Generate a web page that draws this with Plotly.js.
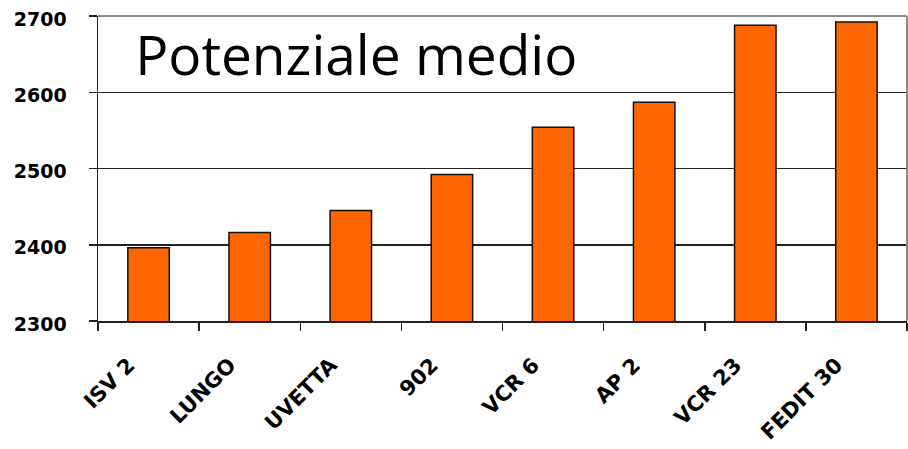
<!DOCTYPE html>
<html>
<head>
<meta charset="utf-8">
<script src="https://cdn.plot.ly/plotly-3.0.1.min.js"></script>
<style>
  html, body { margin: 0; padding: 0; background: #fff; }
  #chart { width: 908px; height: 449px; }
</style>
</head>
<body>
<div id="chart"></div>
<script>
// varietà e potenziale medio
const varieta = ["ISV 2", "LUNGO", "UVETTA", "902", "VCR 6", "AP 2", "VCR 23", "FEDIT 30"];
const potenziale = [2396, 2416, 2445, 2492, 2554, 2587, 2688, 2692];
const yTicks = [2300, 2400, 2500, 2600, 2700];

const yFont = { family: "DejaVu Sans", size: 19, color: "#000", weight: "bold" };
const xFont = { family: "DejaVu Sans", size: 21, color: "#000", weight: "bold" };

Plotly.newPlot(
  "chart",
  [{
    type: "bar",
    x: varieta,
    y: potenziale,
    marker: { color: "#FF6600", line: { color: "#111", width: 1.5 } },
    hoverinfo: "x+y",
  }],
  {
    width: 908,
    height: 449,
    margin: { l: 98, r: 1, t: 16, b: 128 },
    paper_bgcolor: "#fff",
    plot_bgcolor: "#fff",
    bargap: 0.59,
    showlegend: false,
    title: {
      text: "Potenziale medio",
      font: { family: "Open Sans", size: 55, color: "#000" },
      xref: "paper", x: 0.046, xanchor: "left",
      yref: "paper", y: 0.87, yanchor: "middle",
    },
    xaxis: {
      type: "category",
      tickangle: -45,
      tickfont: xFont,
      ticks: "outside",
      tickson: "boundaries",
      ticklen: 8,
      tickwidth: 1.5,
      tickcolor: "#222",
      ticklabelstandoff: 22,
      ticklabelshift: -20,
      showline: true,
      linecolor: "#222",
      linewidth: 1.5,
      showgrid: false,
      fixedrange: true,
    },
    yaxis: {
      range: [2300, 2700],
      tickvals: yTicks,
      tickfont: yFont,
      ticks: "outside",
      ticklen: 8,
      tickwidth: 1.5,
      tickcolor: "#222",
      ticklabelstandoff: 18,
      ticklabelshift: 3,
      showline: true,
      linecolor: "#222",
      linewidth: 1.5,
      showgrid: true,
      gridcolor: "#222",
      gridwidth: 1.5,
      fixedrange: true,
    },
    shapes: [
      { type: "line", xref: "paper", yref: "paper", x0: 0, x1: 1, y0: 1, y1: 1, line: { color: "#8a8a8a", width: 2 } },
      { type: "line", xref: "paper", yref: "paper", x0: 1, x1: 1, y0: 0, y1: 1, line: { color: "#8a8a8a", width: 2 } },
    ],
  },
  { displayModeBar: false, staticPlot: true }
);
</script>
</body>
</html>
